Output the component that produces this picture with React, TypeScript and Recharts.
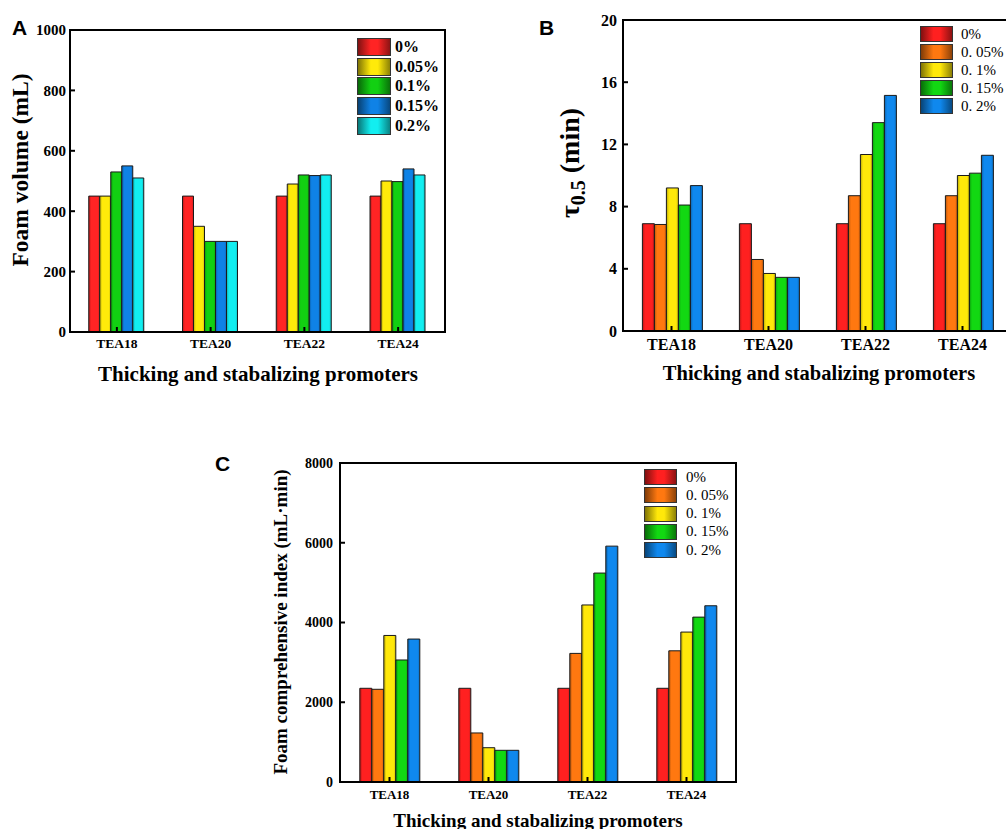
import React from "react";
import { BarChart, Bar, XAxis, YAxis, Legend, ReferenceArea } from "recharts";

const categories = ["TEA18", "TEA20", "TEA22", "TEA24"];

// A: foam volume (mL)
const volumeLabels = ["0%", "0.05%", "0.1%", "0.15%", "0.2%"];
const volumeColors = ["#ff2424", "#ffea0a", "#12d012", "#0f82e6", "#12eef0"];
const volume0 = [450, 450, 450, 450];
const volume005 = [450, 350, 490, 500];
const volume01 = [530, 300, 520, 498];
const volume015 = [550, 300, 518, 540];
const volume02 = [510, 300, 520, 520];
const volumeTicks = [0, 200, 400, 600, 800, 1000];

// B: half-life tau 0.5 (min)
const concLabels = ["0%", "0. 05%", "0. 1%", "0. 15%", "0. 2%"];
const concColors = ["#ff2020", "#ff7810", "#ffe80a", "#12d812", "#0f88ee"];
const half0 = [6.9, 6.9, 6.9, 6.9];
const half005 = [6.85, 4.6, 8.7, 8.7];
const half01 = [9.2, 3.7, 11.35, 10.0];
const half015 = [8.1, 3.45, 13.4, 10.15];
const half02 = [9.35, 3.45, 15.15, 11.3];
const halfTicks = [0, 4, 8, 12, 16, 20];

// C: foam comprehensive index (mL·min)
const index0 = [2350, 2350, 2350, 2350];
const index005 = [2325, 1230, 3225, 3290];
const index01 = [3675, 860, 4440, 3760];
const index015 = [3060, 795, 5240, 4135];
const index02 = [3585, 795, 5915, 4420];
const indexTicks = [0, 2000, 4000, 6000, 8000];

const SERIF = "'Liberation Serif', 'Times New Roman', serif";
const SANS = "'Liberation Sans', Arial, sans-serif";

function shade(hex: string, f: number): string {
  const n = parseInt(hex.slice(1), 16);
  const ch = (v: number) => Math.max(0, Math.min(255, Math.round(v * f)));
  const r = ch((n >> 16) & 255);
  const g = ch((n >> 8) & 255);
  const b = ch(n & 255);
  return `rgb(${r},${g},${b})`;
}

function rows(cols: number[][]) {
  return categories.map((name, i) => {
    const row: Record<string, string | number> = { name };
    cols.forEach((c, k) => {
      row[`s${k}`] = c[i];
    });
    return row;
  });
}

// tick text with the serif font forced inline
function tickText(size: number, anchor: "middle" | "end", dy: string) {
  return (props: any) => (
    <text
      x={props.x}
      y={props.y}
      dy={dy}
      textAnchor={anchor}
      fill="#000"
      style={{ fontFamily: SERIF, fontWeight: 700, fontSize: size }}
    >
      {props.payload.value}
    </text>
  );
}

type PanelProps = {
  id: string;
  left: number;
  top: number;
  width: number;
  height: number;
  margin: { top: number; right: number; bottom: number; left: number };
  yWidth: number;
  xHeight: number;
  ticks: number[];
  data: Record<string, string | number>[];
  labels: string[];
  colors: string[];
  yFont: number;
  yMargin: number;
  xFont: number;
  xMargin: number;
  legend: {
    left: number;
    top: number;
    sw: number;
    sh: number;
    pitch: number;
    gap: number;
    font: number;
    bold: boolean;
  };
};

function Panel(p: PanelProps) {
  const axisLine = { stroke: "#000", strokeWidth: 2 };
  const lg = p.legend;
  const max = p.ticks[p.ticks.length - 1];
  return (
    <div style={{ position: "absolute", left: p.left, top: p.top, fontFamily: SERIF }}>
      <BarChart
        width={p.width}
        height={p.height}
        data={p.data}
        margin={p.margin}
        barCategoryGap="20%"
        barGap={0}
      >
        <defs>
          {p.colors.map((c, k) => (
            <linearGradient key={k} id={`${p.id}-g${k}`} x1="0" y1="0" x2="1" y2="0">
              <stop offset="0%" stopColor={shade(c, 0.72)} />
              <stop offset="22%" stopColor={c} />
              <stop offset="80%" stopColor={c} />
              <stop offset="100%" stopColor={shade(c, 0.82)} />
            </linearGradient>
          ))}
        </defs>
        <XAxis
          dataKey="name"
          height={p.xHeight}
          interval={0}
          axisLine={axisLine}
          tickLine={{ stroke: "#000", strokeWidth: 2 }}
          tickSize={-5}
          tickMargin={p.xMargin}
          tick={tickText(p.xFont, "middle", "0.71em")}
        />
        <YAxis
          type="number"
          width={p.yWidth}
          domain={[0, max]}
          ticks={p.ticks}
          interval={0}
          axisLine={axisLine}
          tickLine={{ stroke: "#000", strokeWidth: 2 }}
          tickSize={-5}
          tickMargin={p.yMargin}
          tick={tickText(p.yFont, "end", "0.355em")}
        />
        <Legend
          layout="vertical"
          align="center"
          verticalAlign="middle"
          wrapperStyle={{ left: lg.left, top: lg.top, width: "auto", height: "auto" }}
          content={() => (
            <div>
              {p.labels.map((l, k) => (
                <div
                  key={l}
                  style={{ display: "flex", alignItems: "center", height: lg.pitch }}
                >
                  <div
                    style={{
                      width: lg.sw,
                      height: lg.sh,
                      boxSizing: "border-box",
                      border: "1px solid #333",
                      background: `linear-gradient(to right, ${shade(p.colors[k], 0.5)} 0%, ${p.colors[k]} 40%, ${p.colors[k]} 62%, ${shade(p.colors[k], 0.55)} 100%)`,
                    }}
                  />
                  <span
                    style={{
                      marginLeft: lg.gap,
                      fontFamily: SERIF,
                      fontSize: lg.font,
                      fontWeight: lg.bold ? "bold" : "normal",
                      color: "#000",
                      lineHeight: 1,
                      whiteSpace: "nowrap",
                    }}
                  >
                    {l}
                  </span>
                </div>
              ))}
            </div>
          )}
        />
        {p.labels.map((l, k) => (
          <Bar
            key={l}
            dataKey={`s${k}`}
            name={l}
            fill={`url(#${p.id}-g${k})`}
            stroke="#1a1a1a"
            strokeWidth={1}
            isAnimationActive={false}
          />
        ))}
        <ReferenceArea
          y1={0}
          y2={max}
          fill="none"
          fillOpacity={0}
          stroke="#000"
          strokeWidth={2}
          ifOverflow="visible"
        />
      </BarChart>
    </div>
  );
}

function Title({
  x,
  y,
  size,
  rotate,
  children,
}: {
  x: number;
  y: number;
  size: number;
  rotate?: boolean;
  children: React.ReactNode;
}) {
  return (
    <div
      style={{
        position: "absolute",
        left: x,
        top: y,
        transform: `translate(-50%, -50%)${rotate ? " rotate(-90deg)" : ""}`,
        fontFamily: SERIF,
        fontWeight: "bold",
        fontSize: size,
        lineHeight: 1,
        whiteSpace: "nowrap",
        color: "#000",
      }}
    >
      {children}
    </div>
  );
}

function Letter({ x, y, text }: { x: number; y: number; text: string }) {
  return (
    <div
      style={{
        position: "absolute",
        left: x,
        top: y,
        fontFamily: SANS,
        fontWeight: "bold",
        fontSize: 21,
        lineHeight: 1,
        color: "#000",
      }}
    >
      {text}
    </div>
  );
}

export default function App() {
  return (
    <div
      style={{
        position: "fixed",
        left: 0,
        top: 0,
        width: 1006,
        height: 829,
        overflow: "hidden",
        background: "#fff",
      }}
    >
      <Panel
        id="a"
        left={0}
        top={0}
        width={460}
        height={360}
        margin={{ top: 30, right: 15, bottom: 0, left: 0 }}
        yWidth={70}
        xHeight={28}
        ticks={volumeTicks}
        data={rows([volume0, volume005, volume01, volume015, volume02])}
        labels={volumeLabels}
        colors={volumeColors}
        yFont={15}
        yMargin={9}
        xFont={13.5}
        xMargin={11}
        legend={{ left: 357, top: 37, sw: 34, sh: 18, pitch: 19.75, gap: 4, font: 16, bold: true }}
      />
      <Panel
        id="b"
        left={500}
        top={0}
        width={530}
        height={360}
        margin={{ top: 20, right: 19, bottom: 0, left: 0 }}
        yWidth={123}
        xHeight={29}
        ticks={halfTicks}
        data={rows([half0, half005, half01, half015, half02])}
        labels={concLabels}
        colors={concColors}
        yFont={16}
        yMargin={11}
        xFont={16}
        xMargin={13}
        legend={{ left: 420, top: 25, sw: 33, sh: 16, pitch: 18, gap: 8, font: 15, bold: false }}
      />
      <Panel
        id="c"
        left={200}
        top={440}
        width={560}
        height={385}
        margin={{ top: 23, right: 24, bottom: 25, left: 0 }}
        yWidth={140}
        xHeight={18}
        ticks={indexTicks}
        data={rows([index0, index005, index01, index015, index02])}
        labels={concLabels}
        colors={concColors}
        yFont={14}
        yMargin={12}
        xFont={13}
        xMargin={13}
        legend={{ left: 444, top: 28, sw: 33, sh: 16, pitch: 18.25, gap: 9, font: 15, bold: false }}
      />

      <Letter x={12} y={17} text="A" />
      <Letter x={539} y={17} text="B" />
      <Letter x={215} y={453} text="C" />

      <Title x={21} y={170} size={23.5} rotate>
        Foam volume (mL)
      </Title>
      <Title x={572} y={163} size={28} rotate>
        τ<sub style={{ fontSize: 20 }}>0.5</sub> (min)
      </Title>
      <Title x={280} y={622} size={19} rotate>
        Foam comprehensive index (mL·min)
      </Title>

      <Title x={258} y={374} size={21}>
        Thicking and stabalizing promoters
      </Title>
      <Title x={819} y={373} size={20.5}>
        Thicking and stabalizing promoters
      </Title>
      <Title x={538} y={820} size={19}>
        Thicking and stabalizing promoters
      </Title>
    </div>
  );
}
